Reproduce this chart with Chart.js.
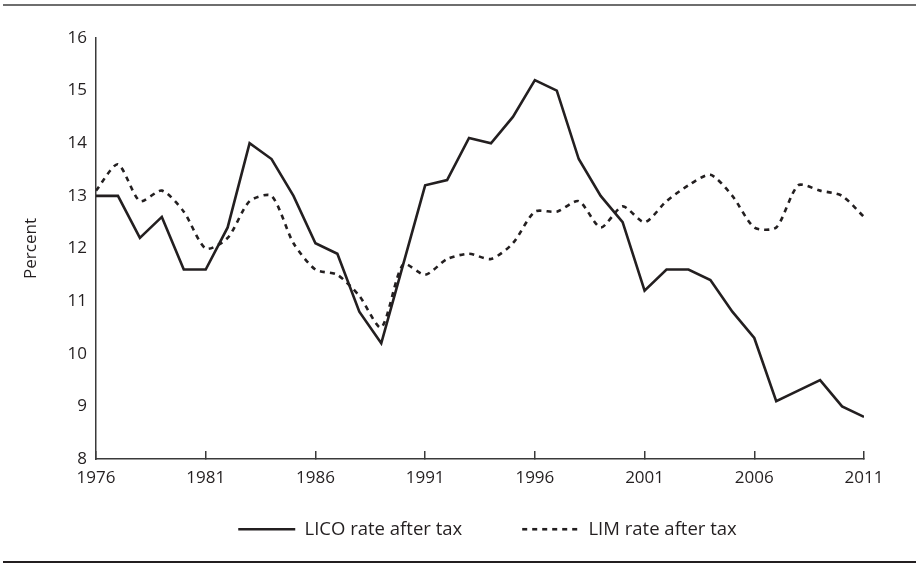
<!DOCTYPE html>
<html>
<head>
<meta charset="utf-8">
<script src="https://cdn.jsdelivr.net/npm/chart.js@4/dist/chart.umd.min.js"></script>
<style>
  html, body { margin: 0; padding: 0; background: #ffffff; }
  #wrap { position: relative; width: 916px; height: 563px; overflow: hidden; }
  #c { position: absolute; left: 0; top: 0; }
  .rule-top { position: absolute; left: 3px; right: 0; top: 4px; height: 2px; background: #6e6e6e; }
  .rule-bottom { position: absolute; left: 3px; right: 0; top: 561px; height: 2px; background: #231f20; }
</style>
</head>
<body>
<div id="wrap">
  <div class="rule-top"></div>
  <canvas id="c" width="916" height="563"></canvas>
  <div class="rule-bottom"></div>
</div>
<script>
const years = [1976, 1977, 1978, 1979, 1980, 1981, 1982, 1983, 1984, 1985,
               1986, 1987, 1988, 1989, 1990, 1991, 1992, 1993, 1994, 1995,
               1996, 1997, 1998, 1999, 2000, 2001, 2002, 2003, 2004, 2005,
               2006, 2007, 2008, 2009, 2010, 2011];
const licoAfterTax = [13.0, 13.0, 12.2, 12.6, 11.6, 11.6, 12.4, 14.0, 13.7, 13.0,
                      12.1, 11.9, 10.8, 10.2, 11.7, 13.2, 13.3, 14.1, 14.0, 14.5,
                      15.2, 15.0, 13.7, 13.0, 12.5, 11.2, 11.6, 11.6, 11.4, 10.8,
                      10.3, 9.1, 9.3, 9.5, 9.0, 8.8];
const limAfterTax = [13.1, 13.6, 12.9, 13.1, 12.7, 12.0, 12.2, 12.9, 13.0, 12.1,
                     11.6, 11.5, 11.1, 10.5, 11.7, 11.5, 11.8, 11.9, 11.8, 12.1,
                     12.7, 12.7, 12.9, 12.4, 12.8, 12.5, 12.9, 13.2, 13.4, 13.0,
                     12.4, 12.4, 13.2, 13.1, 13.0, 12.6];
const xTickYears = [1976, 1981, 1986, 1991, 1996, 2001, 2006, 2011];
const yTickValues = [8, 9, 10, 11, 12, 13, 14, 15, 16];
const seriesNames = ['LICO rate after tax', 'LIM rate after tax'];
const yAxisTitle = 'Percent';

const ink = '#231f20';
const axisInk = '#3a3a3a';
const fontFamily = '"Open Sans", "Noto Sans", sans-serif';

const toPoints = (vals) => years.map((yr, i) => ({ x: yr, y: vals[i] }));

// Keep the legend row directly under the plot (the x-axis keeps room for its labels)
// and centre it slightly right of the plot centre, as in the original figure.
const legendPlacement = {
  id: 'legendPlacement',
  afterLayout(chart) {
    const lg = chart.legend;
    if (!lg) return;
    lg.top = chart.chartArea.bottom + 1;
    lg.bottom = chart.height;
    lg.left = chart.chartArea.left + 15;
    lg.right = chart.chartArea.right;
  }
};

new Chart(document.getElementById('c'), {
  type: 'line',
  data: {
    datasets: [
      {
        label: seriesNames[0],
        data: toPoints(licoAfterTax),
        borderColor: ink,
        backgroundColor: ink,
        borderWidth: 2.6,
        pointRadius: 0,
        tension: 0,
        borderJoinStyle: 'miter'
      },
      {
        label: seriesNames[1],
        data: toPoints(limAfterTax),
        borderColor: ink,
        backgroundColor: ink,
        borderWidth: 2.6,
        borderDash: [5, 5],
        pointRadius: 0,
        tension: 0.25
      }
    ]
  },
  plugins: [legendPlacement],
  options: {
    responsive: false,
    animation: false,
    devicePixelRatio: 1,
    layout: { padding: { top: 38, left: 0, right: 52, bottom: 15 } },
    plugins: {
      tooltip: { enabled: false },
      legend: {
        position: 'bottom',
        fullSize: false,
        align: 'center',
        maxHeight: 54,
        labels: {
          usePointStyle: true,
          pointStyle: 'line',
          pointStyleWidth: 57,
          padding: 60,
          color: ink,
          font: { family: fontFamily, size: 18.5 },
          generateLabels: (chart) => {
            const items = Chart.defaults.plugins.legend.labels.generateLabels(chart);
            return items.map((it) => {
              const ds = chart.data.datasets[it.datasetIndex];
              it.lineDash = ds.borderDash || [];
              it.lineWidth = ds.borderWidth;
              it.strokeStyle = ds.borderColor;
              it.fillStyle = ds.borderColor;
              return it;
            });
          }
        }
      }
    },
    scales: {
      x: {
        type: 'linear',
        min: 1976,
        max: 2011,
        afterBuildTicks: (scale) => { scale.ticks = xTickYears.map(v => ({ value: v })); },
        afterFit: (scale) => { scale.height = 35; },
        grid: {
          display: true,
          drawOnChartArea: false,
          drawTicks: true,
          tickLength: -8,
          color: axisInk,
          lineWidth: 1.5
        },
        border: { display: true, color: axisInk, width: 1.5 },
        ticks: {
          autoSkip: false,
          maxRotation: 0,
          padding: 17,
          color: ink,
          font: { family: fontFamily, size: 17 },
          callback: (v) => String(v)
        }
      },
      y: {
        type: 'linear',
        min: 8,
        max: 16,
        afterBuildTicks: (scale) => { scale.ticks = yTickValues.map(v => ({ value: v })); },
        afterFit: (scale) => { scale.width = 96; },
        grid: { display: false, drawTicks: false },
        border: { display: true, color: axisInk, width: 1.5 },
        ticks: {
          padding: 9,
          color: ink,
          font: { family: fontFamily, size: 17 }
        },
        title: {
          display: true,
          text: yAxisTitle,
          color: ink,
          font: { family: fontFamily, size: 17 },
          padding: { top: 21, bottom: 0 }
        }
      }
    }
  }
});
</script>
</body>
</html>
